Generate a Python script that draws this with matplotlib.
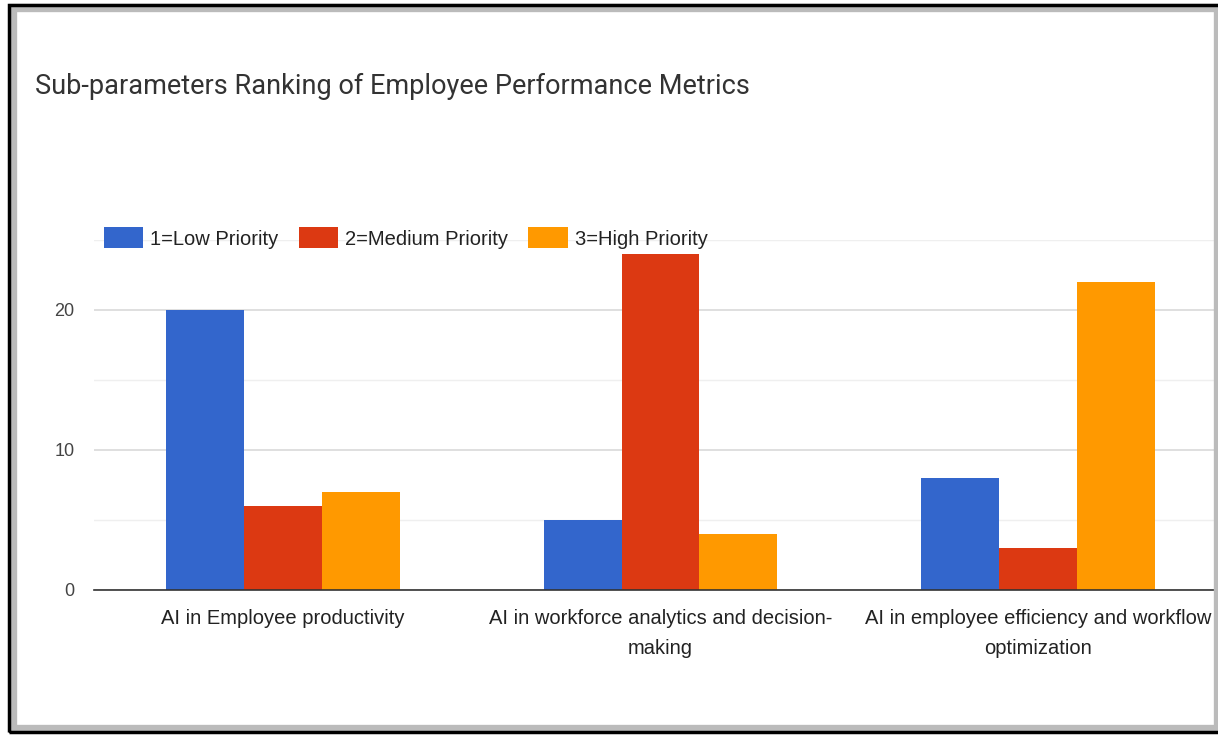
import numpy as np
import matplotlib.pyplot as plt
from matplotlib.patches import Rectangle

categories = ['AI in Employee productivity',
              'AI in workforce analytics and decision-\nmaking',
              'AI in employee efficiency and workflow\noptimization']
series = ['1=Low Priority', '2=Medium Priority', '3=High Priority']
low = [20, 5, 8]
medium = [6, 24, 3]
high = [7, 4, 22]
colors = ['#3366cc', '#dc3912', '#ff9900']

W, H = 1218, 737
fig = plt.figure(figsize=(W/100, H/100), dpi=100)

# plot area (right side is cut off like in the screenshot)
ax = fig.add_axes([94/W, (H-590)/H, (1227-94)/W, (590-240)/H])
x = np.arange(len(categories))
bw = 0.206
for i, (vals, lab) in enumerate(zip([low, medium, high], series)):
    ax.bar(x + (i-1)*bw, vals, bw, color=colors[i], label=lab, zorder=3)

ax.set_xlim(-0.5, 2.5)
ax.set_ylim(0, 25)
ax.set_yticks([0, 10, 20])
ax.set_yticks([5, 15, 25], minor=True)
ax.grid(axis='y', which='major', color='#d9d9d9', lw=1.2, zorder=0)
ax.grid(axis='y', which='minor', color='#efefef', lw=1.0, zorder=0)
for s in ['top', 'right', 'left']:
    ax.spines[s].set_visible(False)
ax.spines['bottom'].set_color('#333333')
ax.spines['bottom'].set_linewidth(1.2)
ax.spines['bottom'].set_zorder(4)
ax.tick_params(axis='both', which='both', length=0)
ax.tick_params(axis='y', pad=14, labelsize=13, labelcolor='#444444')
ax.tick_params(axis='x', pad=14, labelsize=14.5, labelcolor='#222222')
ax.set_xticks(x)
ax.set_xticklabels(categories, fontfamily='Liberation Sans', linespacing=1.7)
for t in ax.get_yticklabels():
    t.set_fontfamily('Liberation Sans')

fig.text(35/W, 1-86/H, 'Sub-parameters Ranking of Employee Performance Metrics',
         fontsize=19.5, fontfamily='Roboto', color='#333333', va='center')

leg = fig.legend(loc='center left', bbox_to_anchor=(86/W, 1-238/H), ncol=3,
                 frameon=False, handlelength=1.95, handleheight=1.2,
                 handletextpad=0.35, columnspacing=1.0,
                 prop={'family': 'Liberation Sans', 'size': 14.5})
for t in leg.get_texts():
    t.set_color('#222222')

# screenshot frame
fig.patches.append(Rectangle((13/W, 8/H), 1 - 13/W, 1 - 16/H, transform=fig.transFigure,
                             fill=False, ec='#bbbbbb', lw=6, zorder=0))
fig.patches.append(Rectangle((9/W, 5/H), 1 - 9/W + 0.01, 1 - 10/H, transform=fig.transFigure,
                             fill=False, ec='black', lw=2.5, zorder=1))

fig.savefig('out.png', dpi=100)
